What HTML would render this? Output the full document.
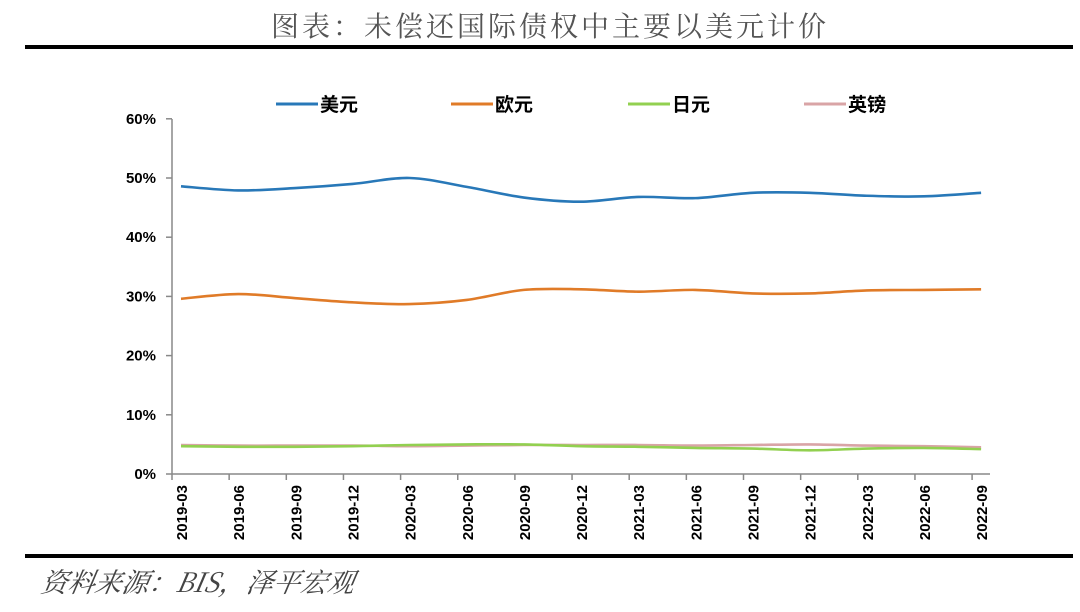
<!DOCTYPE html>
<html><head><meta charset="utf-8"><style>
body{margin:0;background:#fff;width:1080px;height:607px;overflow:hidden;font-family:"Liberation Sans","Noto Sans CJK SC",sans-serif}
</style></head><body>
<svg id="s" width="1080" height="607" xmlns="http://www.w3.org/2000/svg">
<text x="550" y="36" text-anchor="middle" font-family="Noto Serif CJK SC, serif" font-size="28" fill="#555" letter-spacing="3">图表：未偿还国际债权中主要以美元计价</text>
<rect x="25" y="45" width="1048" height="4" fill="#000"/>
<rect x="25" y="554" width="1048" height="4" fill="#000"/>
<text x="40" y="592" font-family="Noto Serif CJK SC, serif" font-style="italic" font-size="27" fill="#444" transform="skewX(-10) translate(104,0)">资料来源：BIS，泽平宏观</text>
<g font-family="Noto Sans CJK SC, sans-serif" font-weight="bold" font-size="19" fill="#000">
<line x1="276" y1="104" x2="318" y2="104" stroke="#2878b8" stroke-width="3"/><text x="320" y="111">美元</text>
<line x1="451" y1="104" x2="493" y2="104" stroke="#e07b28" stroke-width="3"/><text x="495" y="111">欧元</text>
<line x1="628" y1="104" x2="670" y2="104" stroke="#92d050" stroke-width="3"/><text x="672" y="111">日元</text>
<line x1="804" y1="104" x2="846" y2="104" stroke="#d9a4a6" stroke-width="3"/><text x="848" y="111">英镑</text>
</g>
<g id="ax" stroke="#888" stroke-width="1.5" fill="none"></g>
<g id="lab" font-size="15" font-weight="bold" fill="#000"></g>
<g id="ser" fill="none" stroke-width="2.6"></g>
</svg>
<script>
const NS="http://www.w3.org/2000/svg";
const y0=474,py=5.92,x0=181,dx=57.15;
const ax=document.getElementById('ax'),lab=document.getElementById('lab'),ser=document.getElementById('ser');
function el(t,a,p,txt){const e=document.createElementNS(NS,t);for(const k in a)e.setAttribute(k,a[k]);if(txt)e.textContent=txt;p.appendChild(e);return e;}
el('line',{x1:172,y1:119,x2:172,y2:474},ax);
el('line',{x1:172,y1:474,x2:990,y2:474},ax);
for(let i=0;i<=6;i++){const y=y0-i*10*py;el('line',{x1:166,y1:y,x2:172,y2:y},ax);el('text',{x:156,y:y+5,'text-anchor':'end'},lab,(i*10)+'%');}
const L=["2019-03","2019-06","2019-09","2019-12","2020-03","2020-06","2020-09","2020-12","2021-03","2021-06","2021-09","2021-12","2022-03","2022-06","2022-09"];
for(let i=0;i<15;i++){const x=172+i*dx;el('line',{x1:x,y1:474,x2:x,y2:480},ax);
const lx=x0+i*dx+6;el('text',{x:0,y:0,'text-anchor':'end',transform:`translate(${lx},485) rotate(-90)`},lab,L[i]);}
const D=[["#d9a4a6",[4.9,4.8,4.8,4.8,4.7,4.8,4.9,4.9,4.9,4.8,4.9,5.0,4.8,4.7,4.5]],
["#92d050",[4.7,4.6,4.6,4.7,4.9,5.0,5.0,4.7,4.6,4.4,4.3,4.0,4.3,4.4,4.2]],
["#e07b28",[29.6,30.4,29.7,29.0,28.7,29.4,31.1,31.2,30.8,31.1,30.5,30.5,31.0,31.1,31.2]],
["#2878b8",[48.6,47.9,48.3,49.0,50.0,48.5,46.7,46.0,46.8,46.6,47.5,47.5,47.0,46.9,47.5]]];
for(const [c,v] of D){const P=v.map((d,i)=>[x0+i*dx,y0-d*py]);let s=`M${P[0][0]},${P[0][1]}`;
for(let i=0;i<P.length-1;i++){const a=P[Math.max(i-1,0)],b=P[i],q=P[i+1],d=P[Math.min(i+2,P.length-1)];
s+=` C${b[0]+(q[0]-a[0])/6},${b[1]+(q[1]-a[1])/6} ${q[0]-(d[0]-b[0])/6},${q[1]-(d[1]-b[1])/6} ${q[0]},${q[1]}`;}
el('path',{d:s,stroke:c},ser);}
</script>
</body></html>
